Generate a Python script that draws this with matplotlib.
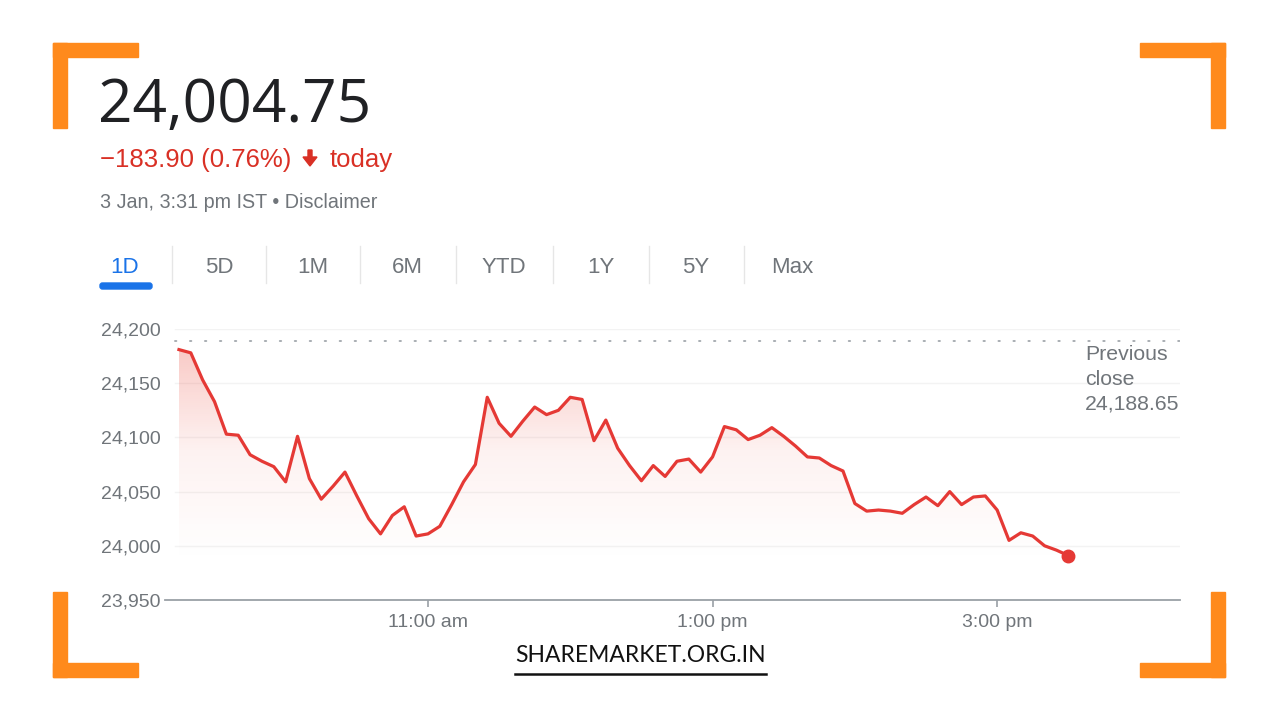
import numpy as np
import matplotlib
matplotlib.use("Agg")
import matplotlib.pyplot as plt
import matplotlib.transforms as mtransforms
from matplotlib.patches import Rectangle, Polygon, FancyBboxPatch
from matplotlib.lines import Line2D

# Nifty 50 intraday, 5-minute closes from 9:15 to 15:30 IST
prices = [
    24181, 24178, 24153, 24133, 24103, 24102, 24084, 24078, 24073, 24059,
    24101, 24062, 24043, 24055, 24068, 24046, 24025, 24011, 24028, 24036,
    24009, 24011, 24018, 24038, 24059, 24075, 24137, 24113, 24101, 24115,
    24128, 24121, 24125, 24137, 24135, 24097, 24116, 24090, 24074, 24060,
    24074, 24064, 24078, 24080, 24068, 24082, 24110, 24107, 24098, 24102,
    24109, 24101, 24092, 24082, 24081, 24074, 24069, 24039, 24032, 24033,
    24032, 24030, 24038, 24045, 24037, 24050, 24038, 24045, 24046, 24033,
    24005, 24012, 24009, 24000, 23996, 23991,
]
start_hour = 9.25          # 9:15 am
step_minutes = 5
prev_close = 24188.65

price_text = "24,004.75"
change_text = "\u2212183.90 (0.76%)"
date_text = "3 Jan, 3:31 pm IST \u2022 Disclaimer"
tabs = ["1D", "5D", "1M", "6M", "YTD", "1Y", "5Y", "Max"]
y_ticks = [23950, 24000, 24050, 24100, 24150, 24200]
x_ticks = [11, 13, 15]
x_labels = ["11:00 am", "1:00 pm", "3:00 pm"]

hours = start_hour + np.arange(len(prices)) * step_minutes / 60.0

RED = "#e53935"
RED_TXT = "#d93025"
GREY = "#70757a"
ORANGE = "#ff8a1c"
W, H = 1280, 720

fig = plt.figure(figsize=(12.8, 7.2), dpi=100)
fig.patch.set_facecolor("white")
# pixel coordinates with origin at the top-left corner
px = mtransforms.Affine2D().scale(1 / W, -1 / H).translate(0, 1) + fig.transFigure

# chart area
ax = fig.add_axes([165 / W, 1 - 600 / H, (1180 - 165) / W, (600 - 329) / H])
ax.set_xlim(9.152, 16.285)
ax.set_ylim(23950, 24200)
for s in ["top", "right", "left"]:
    ax.spines[s].set_visible(False)
ax.spines["bottom"].set_color("#9aa0a6")
ax.spines["bottom"].set_linewidth(1.3)

for v in y_ticks[1:]:
    ax.axhline(v, xmin=0.01, color="#f3f3f3", lw=1, zorder=0)
ax.axhline(prev_close, xmin=0.01, color="#a8adb2", lw=1.4,
           linestyle=(0, (0.7, 7.0)), dash_capstyle="round", zorder=1)

# gradient fill under the line
poly = ax.fill_between(hours, prices, 23950, color="none", lw=0)
grad = np.linspace(0, 1, 256).reshape(-1, 1)
cmap = matplotlib.colors.LinearSegmentedColormap.from_list(
    "fade", [(0.918, 0.263, 0.208, 0.0), (0.918, 0.263, 0.208, 0.07), (0.918, 0.263, 0.208, 0.30)])
im = ax.imshow(grad, cmap=cmap, aspect="auto", origin="lower",
               extent=[hours[0], hours[-1], 23985, 24190], zorder=1)
im.set_clip_path(poly.get_paths()[0], transform=ax.transData)

ax.plot(hours, prices, color=RED, lw=2.3, zorder=3, solid_joinstyle="round")
ax.plot(hours[-1], prices[-1], "o", color=RED, ms=9, zorder=4, clip_on=False)

ax.set_yticks(y_ticks)
ax.set_yticklabels([f"{v:,}" for v in y_ticks])
ax.set_xticks(x_ticks)
ax.set_xticklabels(x_labels)
ax.tick_params(axis="y", length=0, pad=3, labelsize=14, labelcolor=GREY)
ax.tick_params(axis="x", length=5, width=1.2, color="#9aa0a6", pad=5,
               labelsize=14, labelcolor=GREY)
for lab in ax.get_xticklabels() + ax.get_yticklabels():
    lab.set_fontfamily("Liberation Sans")

for txt, yb in [("Previous", 360), ("close", 385), (f"{prev_close:,.2f}", 410)]:
    fig.text(1085, yb, txt, transform=px, fontsize=15.3, color=GREY,
             family="Liberation Sans", va="baseline")

# header texts
fig.text(98, 122, price_text, transform=px, fontsize=43.5, color="#202124",
         family="Open Sans", va="baseline")
fig.text(100, 167, change_text, transform=px, fontsize=18.5, color=RED_TXT,
         family="Liberation Sans", va="baseline")
fig.patches.append(Polygon([(308, 150), (312, 150), (312, 157), (317, 157),
                            (310, 166), (303, 157), (308, 157)],
                           closed=True, color=RED_TXT, transform=px, figure=fig))
fig.text(330, 167, "today", transform=px, fontsize=18.5, color=RED_TXT,
         family="Liberation Sans", va="baseline")
fig.text(100, 208, date_text, transform=px, fontsize=14.2, color=GREY,
         family="Liberation Sans", va="baseline")

# range tabs
tab_x = [125, 219, 313, 407, 504, 601, 696, 792]
for i, (t, x) in enumerate(zip(tabs, tab_x)):
    fig.text(x, 273, t, transform=px, fontsize=16, ha="center", va="baseline",
             color="#1a73e8" if i == 0 else GREY, family="Liberation Sans")
    if i > 0:
        sx = (tab_x[i - 1] + x) / 2
        fig.add_artist(Line2D([sx, sx], [246, 283], transform=px, color="#e6e6e6", lw=1))
fig.patches.append(FancyBboxPatch((100, 283), 52, 6, boxstyle="round,pad=0,rounding_size=2.5",
                                  color="#1a73e8", transform=px, figure=fig))

# orange corner brackets
for (x0, y0, sx, sy) in [(53, 43, 1, 1), (1225, 43, -1, 1), (53, 677, 1, -1), (1225, 677, -1, -1)]:
    fig.patches.append(Rectangle((x0, y0), 85 * sx, 14 * sy, color=ORANGE, transform=px, figure=fig))
    fig.patches.append(Rectangle((x0, y0), 14 * sx, 85 * sy, color=ORANGE, transform=px, figure=fig))

# watermark
fig.text(515, 662, "SHAREMARKET.ORG.IN", transform=px, fontsize=16.5, color="#111111",
         family="Lato", va="baseline")
fig.add_artist(Line2D([515, 766], [673.5, 673.5], transform=px, color="#111111", lw=1.8))

fig.savefig("out.png", dpi=100)
